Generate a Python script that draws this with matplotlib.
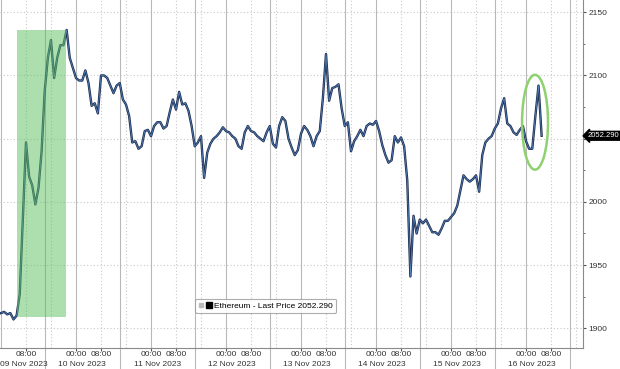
#!/usr/bin/env python3
"""
以太坊价格走势图 (09 Nov - 16 Nov 2023)
"""

import matplotlib
matplotlib.use('Agg')
import matplotlib.pyplot as plt
import matplotlib.dates as mdates
import matplotlib.transforms as mtransforms
from matplotlib.patches import Rectangle, Ellipse
from matplotlib.lines import Line2D
from matplotlib.legend_handler import HandlerTuple
import pandas as pd

plt.rcParams['font.family'] = ['Liberation Sans', 'DejaVu Sans']

# 每小时价格 (从 09 Nov 2023 00:00 开始)
price = [
    1912, 1913, 1911, 1912, 1907, 1910, 1927, 1988, 2047, 2020,
    2013, 1998, 2011, 2040, 2088, 2114, 2128, 2098, 2114, 2124,
    2124, 2136, 2114, 2106, 2098, 2096, 2096, 2104, 2094, 2076,
    2078, 2070, 2100, 2100, 2098, 2092, 2086, 2092, 2094, 2081,
    2077, 2068, 2047, 2048, 2042, 2044, 2056, 2057, 2052, 2060,
    2063, 2063, 2058, 2060, 2071, 2081, 2073, 2087, 2077, 2078,
    2072, 2060, 2044, 2047, 2052, 2019, 2039, 2046, 2050, 2052,
    2055, 2059, 2056, 2055, 2052, 2050, 2044, 2042, 2055, 2060,
    2056, 2055, 2052, 2050, 2048, 2055, 2060, 2046, 2043, 2060,
    2067, 2064, 2050, 2043, 2037, 2041, 2054, 2060, 2057, 2052,
    2044, 2052, 2056, 2082, 2117, 2080, 2090, 2091, 2093, 2074,
    2060, 2063, 2040, 2048, 2052, 2057, 2052, 2060, 2062, 2061,
    2064, 2056, 2045, 2037, 2031, 2033, 2052, 2047, 2051, 2044,
    2017, 1941, 1989, 1975, 1986, 1983, 1986, 1981, 1976, 1976,
    1974, 1979, 1985, 1985, 1988, 1991, 1997, 2009, 2021, 2018,
    2016, 2018, 2021, 2008, 2037, 2047, 2050, 2052, 2058, 2062,
    2074, 2082, 2062, 2060, 2055, 2053, 2057, 2060, 2048, 2042,
    2042, 2068, 2092, 2052.29,
]
times = pd.date_range('2023-11-09 00:00', periods=len(price), freq='h')

days = pd.date_range('2023-11-09', '2023-11-16', freq='D')
date_labels = [d.strftime('%d %b %Y') for d in days]
y_ticks = [1900, 1950, 2000, 2050, 2100, 2150]
# 2050 被最新价标签盖住
y_tick_labels = ['1900', '1950', '2000', '', '2100', '2150']
last_price = price[-1]
series_name = 'Ethereum - Last Price'

fig = plt.figure(figsize=(6.2, 3.69), dpi=100)
ax = fig.add_axes([0, 21 / 369, 583 / 620, 348 / 369])

x_left = pd.Timestamp('2023-11-08 23:41')
x_right = pd.Timestamp('2023-11-16 18:14')
ax.set_xlim(x_left, x_right)
ax.set_ylim(1884.4, 2159.7)

grid_c = '#c8c8c8'
# 网格: 50 一档的虚线
for v in y_ticks:
    ax.axhline(v, color=grid_c, lw=0.8, ls=(0, (1, 2)), zorder=0)

trans = mtransforms.blended_transform_factory(ax.transData, ax.transAxes)
for d in days:
    ax.axvline(d, color='#b8b8b8', lw=0.8, zorder=0)
    for hh in (8, 16):
        ax.axvline(d + pd.Timedelta(hours=hh), color=grid_c, lw=0.8,
                   ls=(0, (1, 2)), zorder=0)
    # 日期分隔线 (延伸到标签区域)
    sep = d + pd.Timedelta(hours=14)
    ax.plot([sep, sep], [-0.062, 1], color='#b8b8b8', lw=0.8,
            transform=trans, clip_on=False, zorder=0)

# 价格曲线 (深蓝 + 浅蓝高光)
ax.plot(times, price, color='#1d2f52', lw=1.7, zorder=3)
ax.plot(times, price, color='#5a86c2', lw=0.5, zorder=3)

# 绿色高亮区域
t0 = mdates.date2num(pd.Timestamp('2023-11-09 05:07'))
t1 = mdates.date2num(pd.Timestamp('2023-11-09 20:48'))
ax.add_patch(Rectangle((t0, 1908.7), t1 - t0, 2135.7 - 1908.7,
                       facecolor='#5cbf5c', alpha=0.5, edgecolor='none',
                       zorder=4))

# 绿色椭圆
tc = mdates.date2num(pd.Timestamp('2023-11-16 02:53'))
ax.add_patch(Ellipse((tc, 2063), 8.3 / 24, 75, fill=False,
                     edgecolor='#8fd16f', lw=1.8, zorder=5))

# 坐标轴样式
for s in ('top', 'left'):
    ax.spines[s].set_visible(False)
for s in ('right', 'bottom'):
    ax.spines[s].set_color('#8a8a8a')
    ax.spines[s].set_linewidth(0.8)

ax.yaxis.tick_right()
ax.set_yticks(y_ticks)
ax.set_yticklabels(y_tick_labels)
ax.set_yticks(range(1900, 2160, 25), minor=True)
ax.tick_params(axis='y', which='major', labelsize=6, length=2.5, pad=1.5,
               colors='#555555', labelcolor='#333333')
ax.tick_params(axis='y', which='minor', length=1.5, colors='#555555')

xt, xl = [], []
for d in days:
    if d != days[0]:
        xt.append(d)
        xl.append('00:00')
    xt.append(d + pd.Timedelta(hours=8))
    xl.append('08:00')
ax.set_xticks(xt)
ax.set_xticklabels(xl)
ax.tick_params(axis='x', labelsize=6, length=2, pad=0.5, colors='#555555',
               labelcolor='#333333')

# 日期标签
for i, d in enumerate(days):
    if i == 0:
        ax.text(x_left, -0.046, date_labels[i], transform=trans, ha='left',
                va='center', fontsize=6, color='#333333')
    else:
        ax.text(d + pd.Timedelta(hours=2), -0.046, date_labels[i],
                transform=trans, ha='center', va='center', fontsize=6,
                color='#333333')

# 最新价标签
trans_y = mtransforms.blended_transform_factory(ax.transAxes, ax.transData)
ax.text(1.008, last_price, f'{last_price:.3f}', transform=trans_y,
        ha='left', va='center', fontsize=5.5, color='white', zorder=6,
        bbox=dict(boxstyle='larrow,pad=0.12', fc='black', ec='black'))

# 图例
h_small = Line2D([], [], marker='s', color='#bbbbbb', ms=2.5, ls='none')
h_big = Line2D([], [], marker='s', color='black', ms=5, ls='none')
leg = ax.legend([(h_small, h_big)], [f'{series_name} {last_price:.3f}'],
                handler_map={tuple: HandlerTuple(ndivide=None, pad=0.2)},
                loc='center', bbox_to_anchor=(0.456, 0.121), fontsize=6,
                frameon=True, fancybox=True, handlelength=1.6,
                handletextpad=0.3, borderpad=0.4)
leg.get_frame().set_edgecolor('#999999')
leg.get_frame().set_linewidth(0.8)

fig.savefig('out.png', dpi=100)
plt.close(fig)
